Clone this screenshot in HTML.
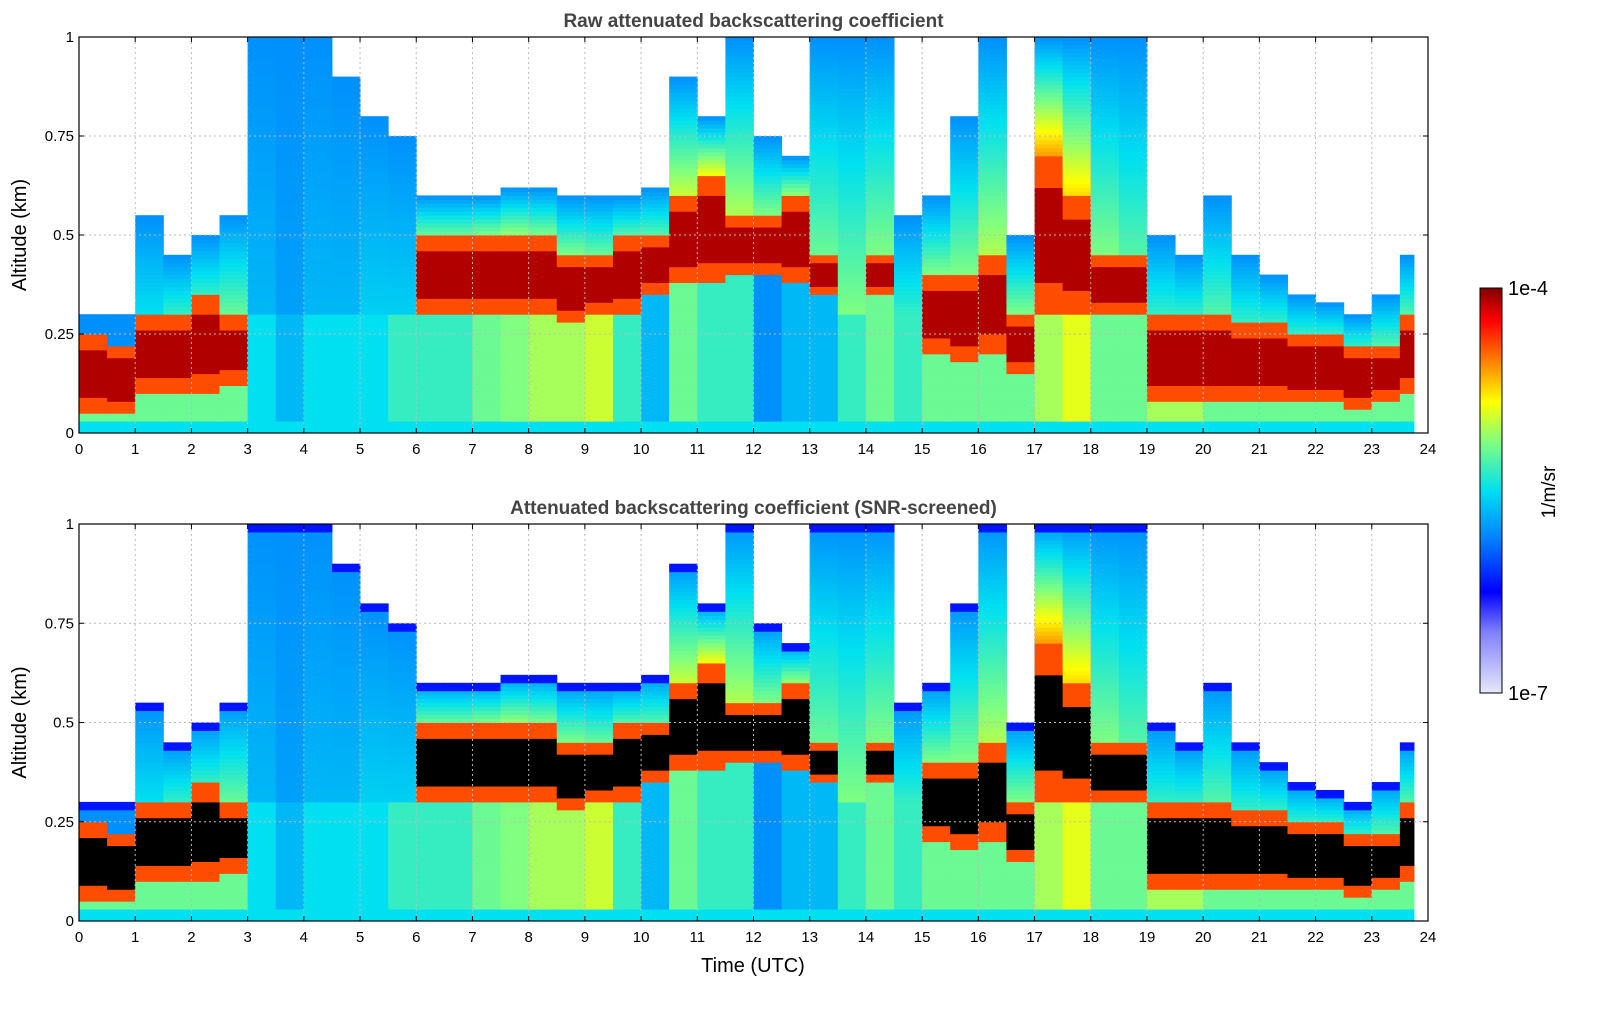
<!DOCTYPE html>
<html><head><meta charset="utf-8"><style>
body{margin:0;background:#fff;width:1621px;height:1020px;overflow:hidden;font-family:"Liberation Sans",sans-serif}
</style></head><body>
<svg id="fig" width="1621" height="1020" xmlns="http://www.w3.org/2000/svg" style="position:absolute;left:0;top:0">
<defs>
<linearGradient id="cbg" x1="0" y1="1" x2="0" y2="0">
<stop offset="0" stop-color="#e8e8f8"/><stop offset="0.15" stop-color="#8080ff"/><stop offset="0.25" stop-color="#0000ff"/><stop offset="0.38" stop-color="#0080ff"/><stop offset="0.5" stop-color="#00e0f0"/><stop offset="0.62" stop-color="#80ff80"/><stop offset="0.72" stop-color="#ffff00"/><stop offset="0.82" stop-color="#ff8000"/><stop offset="0.92" stop-color="#ff0000"/><stop offset="1" stop-color="#800000"/>
</linearGradient></defs>
<g id="panels"></g>
<rect x="1480" y="288" width="22" height="405" fill="url(#cbg)" stroke="#000" stroke-width="1"/>
<text x="1508" y="295" font-size="20">1e-4</text>
<text x="1508" y="700" font-size="20">1e-7</text>
<text x="1555" y="492" font-size="19" text-anchor="middle" transform="rotate(-90 1555 492)">1/m/sr</text>
<text x="753" y="972" font-size="20" text-anchor="middle">Time (UTC)</text>
</svg>
<script>
const times=[0,0.5,1,1.5,2,2.5,3,3.5,4,4.5,5,5.5,6,6.5,7,7.5,8,8.5,9,9.5,10,10.5,11,11.5,12,12.5,13,13.5,14,14.5,15,15.5,16,16.5,17,17.5,18,18.5,19,19.5,20,20.5,21,21.5,22,22.5,23,23.5];
const layerBase=[0.05,0.05,0.1,0.1,0.1,0.12,0,0,0,0,0,0,0.3,0.3,0.3,0.3,0.3,0.28,0.3,0.3,0.35,0.38,0.38,0.4,0.4,0.38,0.35,0,0.35,0,0.2,0.18,0.2,0.15,0.3,0.3,0.3,0.3,0.08,0.08,0.08,0.08,0.08,0.08,0.08,0.06,0.08,0.1];
const layerTop=[0.25,0.22,0.3,0.3,0.35,0.3,0,0,0,0,0,0,0.5,0.5,0.5,0.5,0.5,0.45,0.45,0.5,0.5,0.6,0.65,0.55,0.55,0.6,0.45,0,0.45,0,0.4,0.4,0.45,0.3,0.7,0.6,0.45,0.45,0.3,0.3,0.3,0.28,0.28,0.25,0.25,0.22,0.22,0.3];
const signalTop=[0.3,0.3,0.55,0.45,0.5,0.55,1,1,1,0.9,0.8,0.75,0.6,0.6,0.6,0.62,0.62,0.6,0.6,0.6,0.62,0.9,0.8,1,0.75,0.7,1,1,1,0.55,0.6,0.8,1,0.5,1,1,1,1,0.5,0.45,0.6,0.45,0.4,0.35,0.33,0.3,0.35,0.45];
const nearLevel=[0.6,0.6,0.6,0.6,0.6,0.6,0.5,0.45,0.5,0.5,0.5,0.55,0.55,0.55,0.6,0.62,0.65,0.65,0.68,0.55,0.45,0.6,0.55,0.55,0.4,0.45,0.45,0.55,0.6,0.55,0.6,0.6,0.6,0.6,0.65,0.7,0.6,0.6,0.65,0.65,0.6,0.6,0.6,0.6,0.6,0.6,0.6,0.6];
const upperLevel=[0.4,0.4,0.5,0.55,0.55,0.6,0.45,0.42,0.45,0.45,0.48,0.48,0.6,0.6,0.62,0.64,0.62,0.62,0.6,0.58,0.58,0.68,0.72,0.66,0.62,0.64,0.6,0.62,0.62,0.55,0.62,0.62,0.66,0.62,0.8,0.75,0.62,0.58,0.55,0.55,0.58,0.55,0.55,0.55,0.55,0.55,0.58,0.58];
const xTicks=[0,1,2,3,4,5,6,7,8,9,10,11,12,13,14,15,16,17,18,19,20,21,22,23,24];
const yTicks=[0,0.25,0.5,0.75,1];
const yTickLabels=["0","0.25","0.5","0.75","1"];
const dataEnd=23.75, colW=0.5;

const stops=[[0,[232,232,248]],[0.15,[128,128,255]],[0.25,[0,0,255]],[0.38,[0,128,255]],[0.5,[0,224,240]],[0.62,[128,255,128]],[0.72,[255,255,0]],[0.82,[255,128,0]],[0.92,[255,0,0]],[1,[128,0,0]]];
function cmap(v){for(let i=1;i<stops.length;i++){if(v<=stops[i][0]){const a=stops[i-1],b=stops[i],f=(v-a[0])/(b[0]-a[0]);return 'rgb('+a[1].map((c,k)=>Math.round(c+(b[1][k]-c)*f)).join(',')+')';}}return 'rgb(128,0,0)';}
function valueAt(i,z,screen){
  if(z<0.03) return 0.5;
  const b=layerBase[i],t=layerTop[i],s=signalTop[i];
  if(screen && z<s && z>s-0.02) return 0.27;
  if(t>b && z<b) return nearLevel[i];
  if(t>b && z<=t){const th=t-b,e=Math.min(z-b,t-z);return e<th*0.2?0.86:0.97;}
  if(t<=b && z<s) return z<0.3?nearLevel[i]:upperLevel[i]+(0.4-upperLevel[i])*(z-0.3)/Math.max(0.01,s-0.3);
  if(z<s) return upperLevel[i]+(0.4-upperLevel[i])*(z-t)/Math.max(0.01,s-t);
  return null;
}
const NS='http://www.w3.org/2000/svg';
const g=document.getElementById('panels');
function mk(tag,attrs,parent){const e=document.createElementNS(NS,tag);for(const k in attrs)e.setAttribute(k,attrs[k]);(parent||g).appendChild(e);return e;}
const L=79,R=1428;
const panels=[{top:37,bot:433,title:'Raw attenuated backscattering coefficient',screen:false,name:'raw-panel'},{top:524,bot:921,title:'Attenuated backscattering coefficient (SNR-screened)',screen:true,name:'screened-panel'}];
const xs=t=>L+(R-L)*t/24;
panels.forEach(p=>{
  const ys=z=>p.bot-(p.bot-p.top)*z;
  const pg=mk('g',{});
  
  
  const dz=0.01;
  times.forEach((t,i)=>{
    const x0=xs(t),x1=xs(Math.min(t+colW,dataEnd));
    for(let z=0;z<1;z+=dz){
      let v=valueAt(i,z+dz/2,p.screen);
      if(v===null) continue;
      let col=cmap(v);
      if(p.screen && v>=0.95) col='#000';
      const r=mk('rect',{x:x0,y:ys(z+dz),width:x1-x0+0.5,height:ys(z)-ys(z+dz)+0.5,fill:col},pg);
      
      
    }
  });
  xTicks.forEach(t=>{
    if(t>0&&t<24){const gl=mk('line',{x1:xs(t),x2:xs(t),y1:p.top,y2:p.bot,stroke:'#bbb','stroke-dasharray':'2,3','stroke-width':1},pg);}
    mk('line',{x1:xs(t),x2:xs(t),y1:p.bot,y2:p.bot-5,stroke:'#000'},pg);
    mk('line',{x1:xs(t),x2:xs(t),y1:p.top,y2:p.top+5,stroke:'#000'},pg);
    const lb=mk('text',{x:xs(t),y:p.bot+21,'font-size':15,'text-anchor':'middle'},pg);lb.textContent=t;
    
  });
  yTicks.forEach((z,k)=>{
    if(z>0&&z<1){const gl=mk('line',{x1:L,x2:R,y1:ys(z),y2:ys(z),stroke:'#bbb','stroke-dasharray':'2,3'},pg);}
    mk('line',{x1:L,x2:L+5,y1:ys(z),y2:ys(z),stroke:'#000'},pg);
    mk('line',{x1:R,x2:R-5,y1:ys(z),y2:ys(z),stroke:'#000'},pg);
    const lb=mk('text',{x:L-5,y:ys(z)+5,'font-size':15,'text-anchor':'end'},pg);lb.textContent=yTickLabels[k];
    
  });
  const fr=mk('rect',{x:L,y:p.top,width:R-L,height:p.bot-p.top,fill:'none',stroke:'#000','stroke-width':1.2},pg);
  
  const tt=mk('text',{x:(L+R)/2,y:p.top-10,'font-size':19,'font-weight':'bold',fill:'#444','text-anchor':'middle'},pg);tt.textContent=p.title;
  
  const cy=(p.top+p.bot)/2;
  const yl=mk('text',{x:26,y:cy,'font-size':20,'text-anchor':'middle',transform:'rotate(-90 26 '+cy+')'},pg);yl.textContent='Altitude (km)';
  
});
</script>
</body></html>
